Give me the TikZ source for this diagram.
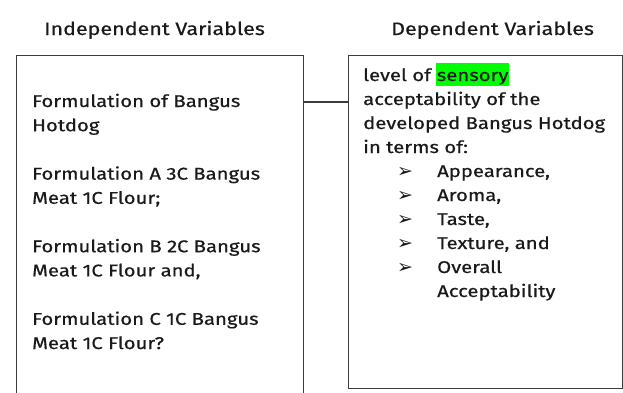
\documentclass[tikz,border=0pt]{standalone}
\usepackage{fontspec}
\setmainfont{Fira Sans}
\newfontfamily\dejavu{DejaVu Sans}
\newfontfamily\measfont[FakeBold=0.6]{Fira Sans}
\newlength\reflen
\settowidth\reflen{\measfont\fontsize{17pt}{24pt}\selectfont Formulation A 3C Bangus}
\pgfmathsetmacro\stretchf{228/\reflen}
\edef\tmpdef{\noexpand\newfontfamily\noexpand\bodyfont[FakeBold=0.6,FakeStretch=\stretchf]{Fira Sans}}
\tmpdef
\definecolor{hilite}{RGB}{0,255,0}
\definecolor{inkc}{RGB}{26,26,26}
\definecolor{linec}{RGB}{60,60,60}
\newcommand\hlword[1]{{\setlength\fboxsep{0pt}\colorbox{hilite}{\rule[-5pt]{0pt}{23.5pt}\hspace{0.5pt}#1\hspace{0.5pt}}}}
\tikzset{
  txt/.style={anchor=base west, inner sep=0pt, text=inkc,
    font=\bodyfont\fontsize{17pt}{24pt}\selectfont},
  hdr/.style={anchor=base west, inner sep=0pt, text=inkc,
    font=\bodyfont\fontsize{18pt}{24pt}\selectfont},
  bul/.style={anchor=base west, inner sep=0pt, text=inkc,
    font=\dejavu\fontsize{19pt}{24pt}\selectfont},
  boxline/.style={draw=linec, line width=1.1pt},
}
\begin{document}
\begin{tikzpicture}[x=1pt,y=1pt]
\useasboundingbox (0,0) rectangle (623,-392);
% headers
\node[hdr] (h1) at (44,-35) {Independent Variables};
\node[hdr] (h2) at (391,-35) {Dependent Variables};
% boxes
\node[boxline, anchor=north west, minimum width=287pt, minimum height=345pt, inner sep=0pt] (lbox) at (16,-55) {};
\node[boxline, anchor=north west, minimum width=273.5pt, minimum height=333pt, inner sep=0pt] (rbox) at (348,-55) {};
\draw[boxline] ([yshift=-47pt]lbox.north east) -- ([yshift=-47pt]rbox.north west);
% left text
\node[txt] (l1) at (32,-107) {Formulation of Bangus};
\node[txt] (l2) at (32,-131.2) {Hotdog};
\node[txt] (l3) at (32,-179.6) {Formulation A 3C Bangus};
\node[txt] (l4) at (32,-203.8) {Meat 1C Flour;};
\node[txt] (l5) at (32,-252.2) {Formulation B 2C Bangus};
\node[txt] (l6) at (32,-276.4) {Meat 1C Flour and,};
\node[txt] (l7) at (32,-324.8) {Formulation C 1C Bangus};
\node[txt] (l8) at (32,-349) {Meat 1C Flour?};
% right text
\node[txt] (r1) at (363,-81) {level of \hlword{sensory}};
\node[txt] (r2) at (363,-105) {acceptability of the};
\node[txt] (r3) at (363,-129) {developed Bangus Hotdog};
\node[txt] (r4) at (363,-153) {in terms of:};
\foreach \i/\t [count=\k] in {177/{Appearance,}, 201/{Aroma,}, 225/{Taste,}, 249/{Texture, and}, 273/{Overall}} {
  \node[bul] (b\k) at (397,-\i) {➢};
  \node[txt] (t\k) at (437,-\i) {\t};
}
\node[txt] (t6) at (437,-297) {Acceptability};
\end{tikzpicture}
\end{document}
